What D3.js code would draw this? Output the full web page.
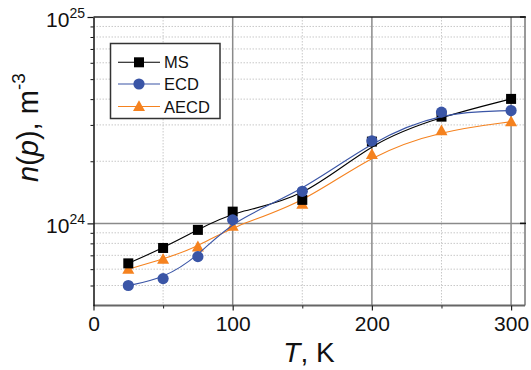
<!doctype html>
<html lang="en">
<head>
    <meta charset="UTF-8">
    <title>n(p) vs T</title>
    <script src="https://cdn.jsdelivr.net/npm/d3@7"></script>
    <style>
        body { margin: 0; background: #fff; }
        svg { font-family: "Liberation Sans", Arial, sans-serif; }
    </style>
</head>
<body>
<script>
    var w = 531;
    var h = 370;

    // data
    var temps = [25, 50, 75, 100, 150, 200, 250, 300];
    var msVals = [6.4e23, 7.6e23, 9.3e23, 1.14e24, 1.30e24, 2.49e24, 3.29e24, 4.01e24];
    var ecdVals = [5.0e23, 5.4e23, 6.9e23, 1.04e24, 1.43e24, 2.51e24, 3.46e24, 3.52e24];
    var aecdVals = [6.0e23, 6.7e23, 7.7e23, 9.7e23, 1.24e24, 2.16e24, 2.81e24, 3.11e24];

    var seriesNames = ["MS", "ECD", "AECD"];
    var xTicks = [0, 100, 200, 300];
    var xMinorTicks = [50, 150, 250];
    var yMajorTicks = [1e24, 1e25];
    var yMinorTicks = [5e23, 6e23, 7e23, 8e23, 9e23, 2e24, 3e24, 4e24, 5e24, 6e24, 7e24, 8e24, 9e24];

    var pLeft = 93.5, pRight = 525, pTop = 17, pBottom = 305.5;

    var xScale = d3.scaleLinear().domain([0, 310]).range([pLeft, pRight]);
    var yScale = d3.scaleLog().domain([4e23, 1e25]).range([pBottom, pTop]);

    var svg = d3.select("body").append("svg")
        .attr("width", w)
        .attr("height", h);

    // minor grid (dotted)
    svg.append("g").selectAll("line")
        .data(xMinorTicks).enter().append("line")
        .attr("x1", function (d) { return xScale(d); })
        .attr("x2", function (d) { return xScale(d); })
        .attr("y1", pTop).attr("y2", pBottom)
        .attr("stroke", "#c8c8c8").attr("stroke-width", 1)
        .attr("stroke-dasharray", "1.5,1.5");
    svg.append("g").selectAll("line")
        .data(yMinorTicks).enter().append("line")
        .attr("x1", pLeft).attr("x2", pRight)
        .attr("y1", function (d) { return yScale(d); })
        .attr("y2", function (d) { return yScale(d); })
        .attr("stroke", "#c8c8c8").attr("stroke-width", 1)
        .attr("stroke-dasharray", "1.5,1.5");

    // major grid
    svg.append("g").selectAll("line")
        .data(xTicks.slice(1)).enter().append("line")
        .attr("x1", function (d) { return xScale(d); })
        .attr("x2", function (d) { return xScale(d); })
        .attr("y1", pTop).attr("y2", pBottom)
        .attr("stroke", "#8a8a8a").attr("stroke-width", 1.5);
    svg.append("line")
        .attr("x1", pLeft).attr("x2", pRight)
        .attr("y1", yScale(1e24)).attr("y2", yScale(1e24))
        .attr("stroke", "#8a8a8a").attr("stroke-width", 1.5);

    // frame
    svg.append("line").attr("x1", pLeft).attr("x2", pRight).attr("y1", pTop).attr("y2", pTop)
        .attr("stroke", "#222").attr("stroke-width", 1.5);
    svg.append("line").attr("x1", pRight).attr("x2", pRight).attr("y1", pTop).attr("y2", pBottom)
        .attr("stroke", "#777").attr("stroke-width", 1.5);
    svg.append("line").attr("x1", pLeft).attr("x2", pRight).attr("y1", pBottom).attr("y2", pBottom)
        .attr("stroke", "#666").attr("stroke-width", 2);

    // axes
    var xAxis = d3.axisBottom(xScale).tickValues(xTicks).tickSize(5).tickSizeOuter(0).tickPadding(6);
    var gx = svg.append("g").attr("transform", "translate(0," + pBottom + ")").call(xAxis);
    gx.select(".domain").remove();
    gx.selectAll("line").attr("stroke", "#222").attr("stroke-width", 1.2);
    gx.selectAll("text").attr("font-size", "21px").attr("fill", "#111")
        .attr("font-family", "Liberation Sans, Arial, sans-serif");

    var xMinor = d3.axisBottom(xScale).tickValues(xMinorTicks).tickSize(3).tickFormat("");
    var gxm = svg.append("g").attr("transform", "translate(0," + pBottom + ")").call(xMinor);
    gxm.select(".domain").remove();
    gxm.selectAll("line").attr("stroke", "#222");

    var yAxis = d3.axisLeft(yScale).tickValues(yMajorTicks).tickSize(6).tickSizeOuter(0).tickFormat("");
    var gy = svg.append("g").attr("transform", "translate(" + pLeft + ",0)").call(yAxis);
    gy.select(".domain").attr("stroke", "#111").attr("stroke-width", 1.5);
    gy.selectAll("line").attr("stroke", "#111").attr("stroke-width", 1.2);

    var yMinor = d3.axisLeft(yScale).tickValues(yMinorTicks).tickSize(3).tickFormat("");
    var gym = svg.append("g").attr("transform", "translate(" + pLeft + ",0)").call(yMinor);
    gym.select(".domain").remove();
    gym.selectAll("line").attr("stroke", "#111");

    // right side inward major ticks
    svg.append("g").selectAll("line")
        .data(yMajorTicks).enter().append("line")
        .attr("x1", pRight - 5).attr("x2", pRight + 1)
        .attr("y1", function (d) { return yScale(d); })
        .attr("y2", function (d) { return yScale(d); })
        .attr("stroke", "#111").attr("stroke-width", 1.5);

    // y tick labels 10^n
    var yLab = svg.append("g").selectAll("text")
        .data(yMajorTicks).enter().append("text")
        .attr("x", 85)
        .attr("y", function (d) { return yScale(d) + 9.5; })
        .attr("text-anchor", "end")
        .attr("fill", "#111");
    yLab.append("tspan").attr("font-size", "21px").text("10");
    yLab.append("tspan").attr("font-size", "14px").attr("dy", -9)
        .text(function (d) { return Math.round(Math.log10(d)); });

    // series lines (B-spline like)
    var line = d3.line()
        .x(function (d) { return xScale(d[0]); })
        .y(function (d) { return yScale(d[1]); })
        .curve(d3.curveBasis);

    var series = [
        {name: "AECD", vals: aecdVals, color: "#f5821f", shape: "tri"},
        {name: "MS", vals: msVals, color: "#000000", shape: "sq"},
        {name: "ECD", vals: ecdVals, color: "#3a55a6", shape: "circ"}
    ];

    function drawMarker(g, shape, color) {
        if (shape === "sq") {
            g.append("rect").attr("x", -5).attr("y", -5).attr("width", 10).attr("height", 10)
                .attr("fill", color);
        } else if (shape === "circ") {
            g.append("circle").attr("r", 5.6).attr("fill", color);
        } else {
            g.append("path").attr("d", "M0,-6.2L6,4.6L-6,4.6Z").attr("fill", color);
        }
    }

    series.forEach(function (s) {
        var pts = temps.map(function (t, i) { return [t, s.vals[i]]; });
        svg.append("path")
            .attr("d", line(pts))
            .attr("fill", "none")
            .attr("stroke", s.color)
            .attr("stroke-width", 1.1);
        svg.append("g").selectAll("g")
            .data(pts).enter().append("g")
            .attr("transform", function (d) {
                return "translate(" + xScale(d[0]) + "," + yScale(d[1]) + ")";
            })
            .each(function () { drawMarker(d3.select(this), s.shape, s.color); });
    });

    // legend
    var legend = svg.append("g");
    legend.append("rect")
        .attr("x", 110.5).attr("y", 43.5).attr("width", 109.5).attr("height", 75)
        .attr("fill", "#fff").attr("stroke", "#333").attr("stroke-width", 1.5);
    var legendRows = [
        {name: seriesNames[0], color: "#000000", shape: "sq", y: 62.3},
        {name: seriesNames[1], color: "#3a55a6", shape: "circ", y: 84},
        {name: seriesNames[2], color: "#f5821f", shape: "tri", y: 106.5}
    ];
    legendRows.forEach(function (r) {
        legend.append("line")
            .attr("x1", 118).attr("x2", 160).attr("y1", r.y).attr("y2", r.y)
            .attr("stroke", r.color).attr("stroke-width", 1.1);
        drawMarker(legend.append("g").attr("transform", "translate(139," + r.y + ")"), r.shape, r.color);
        legend.append("text")
            .attr("x", 164).attr("y", r.y + 6)
            .attr("font-size", "16.5px").attr("fill", "#111")
            .text(r.name);
    });

    // axis titles
    var xt = svg.append("text")
        .attr("x", 309).attr("y", 361.5)
        .attr("text-anchor", "middle")
        .attr("font-size", "28px").attr("fill", "#111");
    xt.append("tspan").attr("font-style", "italic").text("T");
    xt.append("tspan").text(", K");

    var yt = svg.append("text")
        .attr("transform", "translate(38,182) rotate(-90)")
        .attr("text-anchor", "start")
        .attr("font-size", "29px").attr("fill", "#111");
    yt.append("tspan").attr("font-style", "italic").text("n");
    yt.append("tspan").text("(");
    yt.append("tspan").attr("font-style", "italic").text("p");
    yt.append("tspan").text("), m");
    yt.append("tspan").attr("font-size", "19px").attr("dy", -13).text("-3");
</script>
</body>
</html>
